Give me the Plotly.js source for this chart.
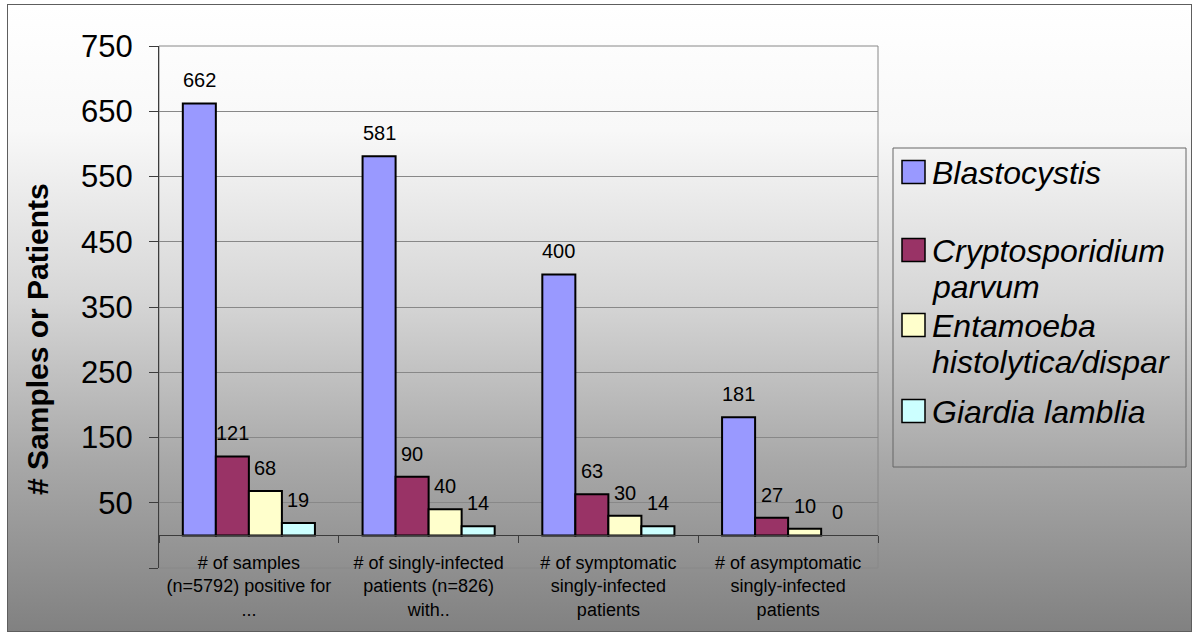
<!DOCTYPE html>
<html><head><meta charset="utf-8">
<script src="https://cdn.plot.ly/plotly-3.0.1.min.js"></script>
<style>
html,body{margin:0;padding:0;background:#fff;}
#wrap{position:relative;width:1200px;height:643px;overflow:hidden;}
#bg{position:absolute;left:7px;top:4px;width:1183px;height:626px;border:1.5px solid #5e5e5e;
background:linear-gradient(to bottom,#ffffff 0%,#f8f8f8 20%,#d6d6d6 47%,#a8a8a8 73%,#818181 100%);}
#chart{position:absolute;left:0;top:0;width:1200px;height:643px;}
</style></head><body>
<div id="wrap"><div id="bg"></div><div id="chart"></div></div>
<script>
const categories = [
  '# of samples<br>(n=5792) positive for<br>...',
  '# of singly-infected<br>patients (n=826)<br>with..',
  '# of symptomatic<br>singly-infected<br>patients',
  '# of asymptomatic<br>singly-infected<br>patients'
];
const seriesNames = ['Blastocystis', 'Cryptosporidium<br>parvum', 'Entamoeba<br>histolytica/dispar', 'Giardia lamblia'];
const blastocystis = [662, 581, 400, 181];
const cryptosporidium = [121, 90, 63, 27];
const entamoeba = [68, 40, 30, 10];
const giardia = [19, 14, 14, 0];
const seriesColors = ['#9999FF', '#993366', '#FFFFCC', '#CCFFFF'];
const yTickVals = [-50, 50, 150, 250, 350, 450, 550, 650, 750];
const yTickText = ['', '50', '150', '250', '350', '450', '550', '650', '750'];
const yTitle = '# Samples or Patients';

const FONT = 'Liberation Sans, Arial, sans-serif';
const seriesValues = [blastocystis, cryptosporidium, entamoeba, giardia];
const BARGAP = 0.265;

// plot-area geometry in pixels
const W = 719, H = 522, L = 159, T = 46;
const px = v => (v - L) / W;
const py = v => (T + H - v) / H;

const traces = seriesValues.map((vals, s) => ({
  type: 'bar',
  x: categories,
  y: vals,
  name: seriesNames[s],
  showlegend: false,
  marker: {color: seriesColors[s], line: {color: '#000', width: vals.map(v => v === 0 ? 0 : 2)}},
  hoverinfo: 'y'
}));

const annotations = [];
const shapes = [
  {type: 'rect', xref: 'paper', yref: 'paper', x0: 0, x1: 1, y0: 0, y1: 1,
   line: {color: '#888888', width: 1}, layer: 'below'},
  {type: 'rect', xref: 'paper', yref: 'paper', x0: px(893), x1: px(1186), y0: py(467), y1: py(148),
   line: {color: '#666666', width: 1}, layer: 'below'}
];

// data labels above bars
const nS = seriesValues.length;
const bw = (1 - BARGAP) / nS;
seriesValues.forEach((vals, s) => {
  vals.forEach((v, i) => {
    annotations.push({
      x: i - (1 - BARGAP) / 2 + (s + 0.5) * bw,
      y: v, xref: 'x', yref: 'y',
      text: String(v), showarrow: false,
      xanchor: 'center', yanchor: 'bottom', yshift: 10,
      font: {family: FONT, size: 20, color: '#000'}
    });
  });
});

// y-axis title
annotations.push({
  text: yTitle, textangle: -90, showarrow: false,
  xref: 'paper', yref: 'paper', x: px(37), y: py(339),
  xanchor: 'center', yanchor: 'middle',
  font: {family: FONT, size: 30, color: '#000', weight: 'bold'}
});

// legend (drawn as keys + labels)
const legendCenters = [172, 250, 325, 411];
const LINE = 36, KEY = 23;
seriesNames.forEach((name, s) => {
  const c = legendCenters[s];
  shapes.push({
    type: 'rect', xref: 'paper', yref: 'paper',
    x0: px(902), x1: px(902 + KEY), y0: py(c + KEY / 2), y1: py(c - KEY / 2),
    fillcolor: seriesColors[s], line: {color: '#000', width: 1.5}, layer: 'above'
  });
  name.split('<br>').forEach((line, k) => {
    annotations.push({
      text: line, showarrow: false, xref: 'paper', yref: 'paper',
      x: px(930), y: py(c + 1 + k * LINE), xanchor: 'left', yanchor: 'middle',
      font: {family: FONT, size: 32, style: 'italic', color: '#000'}
    });
  });
});

const layout = {
  width: 1200, height: 643,
  margin: {l: L, r: 1200 - L - W, t: T, b: 643 - T - H, pad: 0},
  paper_bgcolor: 'rgba(0,0,0,0)', plot_bgcolor: 'rgba(0,0,0,0)',
  barmode: 'group', bargap: BARGAP, bargroupgap: 0,
  font: {family: FONT, color: '#000'},
  showlegend: false,
  xaxis: {
    type: 'category', anchor: 'free', position: 50 / 800,
    range: [-0.5, 3.5],
    showline: true, linecolor: '#3c3c3c', linewidth: 1,
    ticks: 'outside', tickson: 'boundaries', ticklen: 7, tickcolor: '#3c3c3c',
    showgrid: false, zeroline: false,
    tickfont: {family: FONT, size: 18, color: '#000'},
    ticklabelstandoff: 11
  },
  yaxis: {
    range: [-50, 750], tickvals: yTickVals, ticktext: yTickText,
    showline: true, linecolor: '#3c3c3c', linewidth: 1,
    ticks: 'outside', ticklen: 9, tickcolor: '#3c3c3c',
    showgrid: true, gridcolor: '#888888', gridwidth: 1, zeroline: false,
    tickfont: {family: FONT, size: 31, color: '#000'},
    ticklabelstandoff: 10
  },
  shapes: shapes,
  annotations: annotations
};

Plotly.newPlot('chart', traces, layout, {displayModeBar: false, responsive: false});
</script>
</body></html>
